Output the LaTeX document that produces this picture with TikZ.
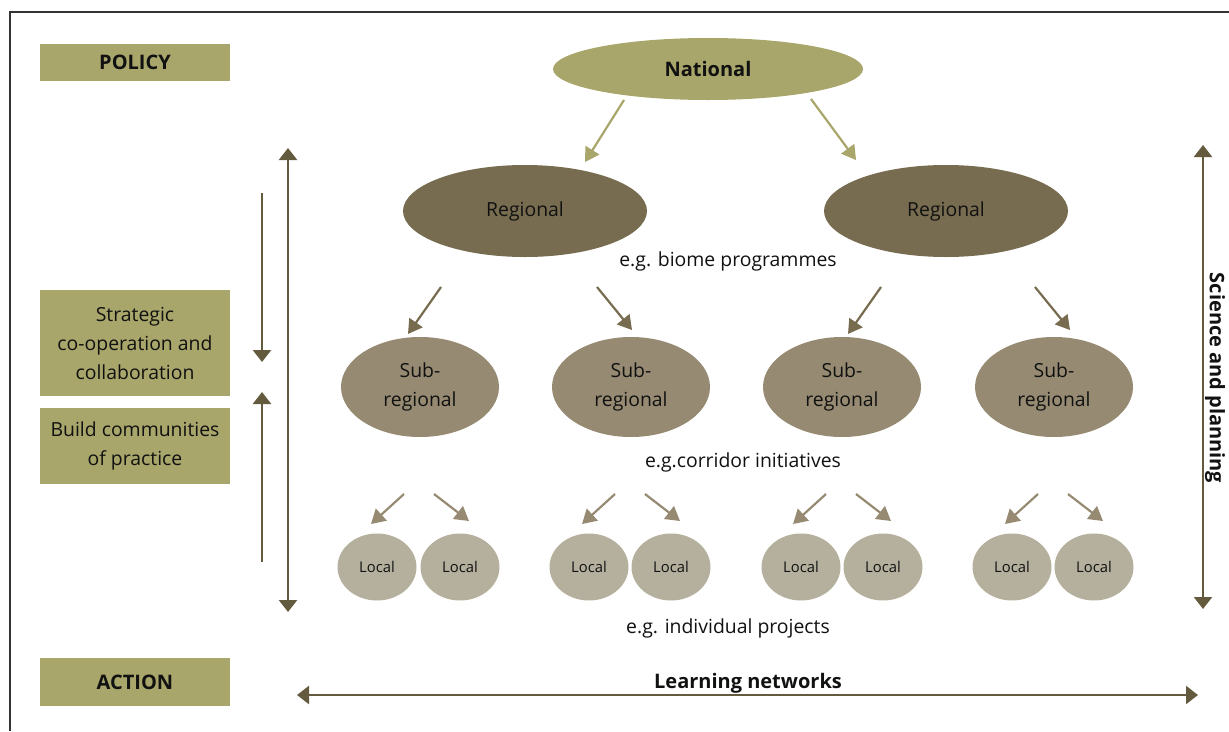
\documentclass[tikz,border=0pt]{standalone}
\usepackage{fontspec}
\setmainfont{Open Sans}
\usetikzlibrary{arrows.meta,shapes.geometric}
\definecolor{olive}{HTML}{A8A66A}
\definecolor{regc}{HTML}{776C50}
\definecolor{subc}{HTML}{968B72}
\definecolor{locc}{HTML}{B5B09D}
\definecolor{vertc}{HTML}{645A3E}
\definecolor{framec}{HTML}{333333}
\definecolor{txt}{HTML}{111111}
\newcommand\regf{\fontsize{19.4}{29}\selectfont}
\newcommand\boldf{\fontsize{20}{24}\selectfont\bfseries}
\tikzset{
  sidebox/.style={fill=olive, draw=none, minimum width=190pt, inner sep=0pt, align=center, text=txt},
  ell/.style={ellipse, draw=none, inner sep=0pt, text=txt, align=center},
  nat/.style={ell, fill=olive, minimum width=310pt, minimum height=62pt, font=\boldf},
  reg/.style={ell, fill=regc, minimum width=244pt, minimum height=92pt, font=\regf},
  sub/.style={ell, fill=subc, minimum width=158pt, minimum height=100pt, font=\regf},
  loc/.style={ell, fill=locc, minimum width=79pt, minimum height=67pt, font=\fontsize{14.8}{17}\selectfont},
  note/.style={text=txt, font=\regf, inner sep=0pt},
  tri/.style={-{Triangle[width=16pt,length=14pt]}, line width=2.2pt},
  natarr/.style={tri, draw=olive, fill=olive},
  regarr/.style={tri, draw=regc, fill=regc},
  locarr/.style={tri, draw=subc, fill=subc},
  vert/.style={line width=2.4pt, draw=vertc, {Triangle[width=18pt,length=12pt]}-{Triangle[width=18pt,length=12pt]}},
  vone/.style={line width=2.4pt, draw=vertc, -{Triangle[width=18pt,length=12pt]}},
}
\begin{document}
\begin{tikzpicture}[x=1pt,y=-1pt]
\useasboundingbox (0,0) rectangle (1229,731);
% frame
\coordinate (fa) at (10,731);
\coordinate (fb) at (10,12);
\coordinate (fc) at (1229,12);
\draw[framec, line width=1.5pt] (fa) -- (fb) -- (fc);

% side boxes
\node[sidebox, minimum height=37pt, font=\boldf] (policy) at (135,62.5) {POLICY};
\node[sidebox, minimum height=106pt, font=\regf] (strat) at (135,343) {Strategic\\co-operation and\\collaboration};
\node[sidebox, minimum height=76pt, font=\regf] (build) at (135,446) {Build communities\\of practice};
\node[sidebox, minimum height=48pt, font=\boldf] (action) at (135,682) {ACTION};

% hierarchy
\node[nat] (nat) at (708,69) {National};
\node[reg] (r1) at (525,211) {Regional};
\node[reg] (r2) at (946,211) {Regional};
\node[sub] (s1) at (420,387) {Sub-\\regional};
\node[sub] (s2) at (631,387) {Sub-\\regional};
\node[sub] (s3) at (842,387) {Sub-\\regional};
\node[sub] (s4) at (1054,387) {Sub-\\regional};
\foreach \i/\x in {1/377,2/460,3/589,4/671,5/801,6/883,7/1012,8/1094}{
  \node[loc] (l\i) at (\x,567) {Local};
}
\node[note] (eg1) at (728,261) {e.g. biome programmes};
\node[note] (eg2) at (743,462) {e.g.corridor initiatives};
\node[note] (eg3) at (728,628) {e.g. individual projects};

% national arrows
\coordinate (na1) at (624,100); \coordinate (nb1) at (585,162);
\coordinate (na2) at (811,99);  \coordinate (nb2) at (856,160);
\draw[natarr] (na1) -- (nb1);
\draw[natarr] (na2) -- (nb2);

% regional arrows
\foreach \i/\ax/\bx/\cx/\dx in {1/441/408/597/632, 2/881/848/1035/1070}{
  \coordinate (ra\i) at (\ax,287); \coordinate (rb\i) at (\bx,334);
  \coordinate (rc\i) at (\cx,287); \coordinate (rd\i) at (\dx,330);
  \draw[regarr] (ra\i) -- (rb\i);
  \draw[regarr] (rc\i) -- (rd\i);
}

% local arrows
\foreach \i/\c in {1/420,2/631,3/842,4/1054}{
  \coordinate (la\i) at ({\c-16},494); \coordinate (lb\i) at ({\c-49},524);
  \coordinate (lc\i) at ({\c+14},494); \coordinate (ld\i) at ({\c+49},521);
  \draw[locarr] (la\i) -- (lb\i);
  \draw[locarr] (lc\i) -- (ld\i);
}

% vertical arrows left
\coordinate (va) at (288,148); \coordinate (vb) at (288,612);
\draw[vert] (va) -- (vb);
\coordinate (da) at (262,193); \coordinate (db) at (262,362);
\draw[vone] (da) -- (db);
\coordinate (ua) at (262,562); \coordinate (ub) at (262,392);
\draw[vone] (ua) -- (ub);

% right arrow and label
\coordinate (sa) at (1203,145); \coordinate (sb) at (1203,609);
\draw[vert] (sa) -- (sb);
\node[text=txt, rotate=-90, font=\boldf, inner sep=0pt] (sci) at (1215,378) {Science and planning};

% learning networks
\coordinate (ha) at (297,695); \coordinate (hb) at (1198,695);
\draw[vert] (ha) -- (hb);
\node[text=txt, font=\boldf, inner sep=0pt] (learn) at (748,683) {Learning networks};
\end{tikzpicture}
\end{document}
